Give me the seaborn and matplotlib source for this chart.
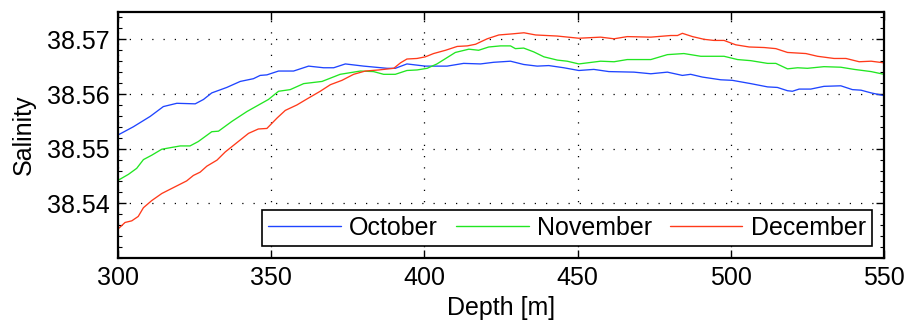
import matplotlib
matplotlib.use("Agg")
import matplotlib.pyplot as plt
from matplotlib.ticker import FormatStrFormatter, MultipleLocator
from matplotlib.lines import Line2D
import seaborn as sns
import pandas as pd

months = ["October", "November", "December"]
colors = ["#1f45ff", "#22e622", "#ff3a1a"]

oct_depth = [300, 305, 310.5, 314.8, 319.2, 325.2, 327.9, 330.6, 335.5, 339.9, 344.2, 346.4, 348.6, 352.4, 357.3,
             362.2, 367.1, 370.4, 374.2, 380.2, 387.8, 390.5, 394.3, 400.3, 407.4, 412.8, 418.3, 422.6, 428.1, 432.4,
             436.8, 440.6, 445.5, 450.4, 455.3, 460.2, 468.4, 473.9, 479.3, 484.2, 486.9, 490.7, 496.7, 500.5, 506.5,
             512.0, 515.2, 518.5, 520.1, 522.3, 526.1, 530.4, 535.9, 539.7, 542.5, 545.8, 550]
oct_sal = [38.5525, 38.5540, 38.5559, 38.5577, 38.5583, 38.5582, 38.5590, 38.5602, 38.5612, 38.5623, 38.5628, 38.5634,
           38.5635, 38.5642, 38.5642, 38.5651, 38.5648, 38.5648, 38.5655, 38.5651, 38.5647, 38.5647, 38.5655, 38.5651,
           38.5651, 38.5656, 38.5655, 38.5658, 38.5660, 38.5654, 38.5651, 38.5652, 38.5648, 38.5643, 38.5645, 38.5641,
           38.5640, 38.5637, 38.5640, 38.5634, 38.5636, 38.5631, 38.5626, 38.5625, 38.5619, 38.5613, 38.5612, 38.5606,
           38.5605, 38.5609, 38.5609, 38.5614, 38.5615, 38.5608, 38.5607, 38.5602, 38.5597]

nov_depth = [300, 303.4, 306.1, 308.3, 311.0, 314.3, 320.3, 323.5, 326.2, 330.6, 332.8, 337.2, 342.1, 347.5, 349.1,
             352.4, 356.2, 360.6, 366.6, 372.5, 379.1, 383.4, 386.7, 390.5, 394.3, 397.6, 400.9, 404.1, 410.1, 414.5,
             417.7, 421.0, 424.8, 428.1, 429.7, 432.4, 435.7, 439.0, 443.4, 446.6, 450.4, 457.5, 461.9, 466.2, 473.9,
             479.3, 484.7, 490.2, 497.8, 502.2, 506.5, 512.0, 514.7, 518.5, 521.8, 525.0, 530.4, 535.9, 540.3, 545.8, 550]
nov_sal = [38.5442, 38.5453, 38.5464, 38.5480, 38.5488, 38.5499, 38.5505, 38.5505, 38.5513, 38.5531, 38.5532, 38.5550,
           38.5568, 38.5585, 38.5590, 38.5605, 38.5608, 38.5619, 38.5623, 38.5636, 38.5642, 38.5641, 38.5636, 38.5636,
           38.5643, 38.5644, 38.5647, 38.5655, 38.5676, 38.5682, 38.5680, 38.5686, 38.5688, 38.5688, 38.5683, 38.5684,
           38.5677, 38.5668, 38.5662, 38.5660, 38.5655, 38.5660, 38.5659, 38.5663, 38.5663, 38.5672, 38.5674, 38.5669,
           38.5669, 38.5663, 38.5661, 38.5656, 38.5656, 38.5646, 38.5648, 38.5647, 38.5650, 38.5649, 38.5645, 38.5641,
           38.5636]

dec_depth = [300, 302.3, 304.5, 306.6, 308.3, 311.0, 314.3, 316.4, 322.4, 324.6, 326.8, 329.0, 332.3, 335.0, 338.8,
             342.6, 345.8, 348.6, 351.9, 354.6, 358.4, 361.7, 366.0, 369.3, 373.1, 376.9, 380.7, 385.1, 390.0, 392.2,
             394.3, 397.6, 400.3, 403.0, 406.9, 410.7, 414.0, 416.7, 420.5, 424.3, 428.7, 432.5, 436.3, 443.4, 450.4,
             457.5, 461.9, 466.2, 473.9, 480.4, 482.6, 484.2, 487.5, 491.3, 494.5, 497.8, 501.6, 506.0, 510.9, 514.7,
             518.5, 524.5, 528.3, 533.7, 537.6, 541.9, 545.8, 550]
dec_sal = [38.5353, 38.5365, 38.5368, 38.5376, 38.5392, 38.5405, 38.5418, 38.5424, 38.5441, 38.5451, 38.5457, 38.5468,
           38.5479, 38.5494, 38.5511, 38.5528, 38.5536, 38.5537, 38.5556, 38.5570, 38.5580, 38.5591, 38.5605, 38.5617,
           38.5625, 38.5636, 38.5642, 38.5644, 38.5647, 38.5657, 38.5664, 38.5665, 38.5668, 38.5674, 38.5680, 38.5687,
           38.5688, 38.5691, 38.5701, 38.5708, 38.5710, 38.5712, 38.5708, 38.5706, 38.5702, 38.5704, 38.5701, 38.5705,
           38.5704, 38.5707, 38.5707, 38.5711, 38.5705, 38.5700, 38.5698, 38.5698, 38.5690, 38.5686, 38.5685, 38.5683,
           38.5676, 38.5674, 38.5669, 38.5665, 38.5665, 38.5659, 38.5660, 38.5657]

x_ticks = [300, 350, 400, 450, 500, 550]
y_ticks = [38.54, 38.55, 38.56, 38.57]

sns.set_style("ticks")
plt.rcParams["font.family"] = ["Liberation Sans", "DejaVu Sans"]
plt.rcParams["font.size"] = 18
plt.rcParams["text.color"] = "black"
plt.rcParams["axes.labelcolor"] = "black"
plt.rcParams["xtick.color"] = "black"
plt.rcParams["ytick.color"] = "black"

df = pd.concat([
    pd.DataFrame({"Depth": oct_depth, "Salinity": oct_sal, "Month": months[0]}),
    pd.DataFrame({"Depth": nov_depth, "Salinity": nov_sal, "Month": months[1]}),
    pd.DataFrame({"Depth": dec_depth, "Salinity": dec_sal, "Month": months[2]}),
], ignore_index=True)

fig = plt.figure(figsize=(9.07, 3.24), dpi=100)
ax = fig.add_axes([118 / 907, 1 - 258 / 324, (884 - 118) / 907, (258 - 12) / 324])

sns.lineplot(data=df, x="Depth", y="Salinity", hue="Month", hue_order=months,
             palette=dict(zip(months, colors)), sort=False, estimator=None,
             linewidth=0.95, ax=ax, legend=False)

ax.set_xlim(300, 550)
ax.set_ylim(38.53, 38.575)
ax.set_xticks(x_ticks)
ax.set_yticks(y_ticks)
ax.yaxis.set_major_formatter(FormatStrFormatter("%.2f"))
ax.yaxis.set_minor_locator(MultipleLocator(0.002))

ax.grid(True, which="major", color="black", linestyle=(0, (1, 8)), linewidth=0.9)
for s in ax.spines.values():
    s.set_linewidth(1.6)
    s.set_color("black")
ax.tick_params(which="major", direction="in", length=6, width=1, top=True, right=True,
               labelsize=18, pad=6, colors="black")
ax.tick_params(which="minor", direction="in", length=3, width=0.8, left=True, right=True)
ax.tick_params(axis="x", which="minor", bottom=False, top=False)

ax.set_xlabel("Depth [m]", fontsize=18, labelpad=4, color="black")
ax.set_ylabel("Salinity", fontsize=18, labelpad=8, color="black")

handles = [Line2D([], [], color=c, linewidth=1.0) for c in colors]
leg = ax.legend(handles, months, loc="lower right", ncol=3, fontsize=18, frameon=True,
                fancybox=False, edgecolor="black", framealpha=1, handlelength=2.9,
                handletextpad=0.33, columnspacing=0.72, borderpad=0.25, borderaxespad=0.48)
leg.get_frame().set_linewidth(1.2)

fig.savefig("out.png", dpi=100)
